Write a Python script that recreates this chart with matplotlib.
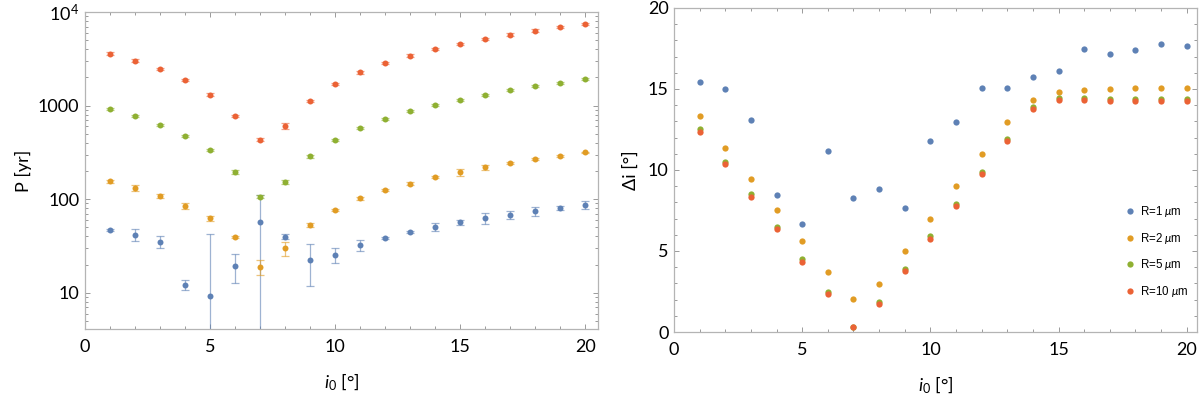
import numpy as np
import matplotlib.pyplot as plt
from matplotlib.ticker import FixedLocator, MultipleLocator, NullFormatter, FixedFormatter

plt.rcParams['font.family'] = ['Lato', 'DejaVu Sans']
plt.rcParams['mathtext.fontset'] = 'custom'
plt.rcParams['mathtext.rm'] = 'Lato'
plt.rcParams['mathtext.it'] = 'Lato:italic'

# inclinations
i0 = list(range(1, 21))

# left panel: period P [yr] with errors, one series per grain radius
p_r1 = [47, 41.7, 35, 12.2, 9.2, 19.3, 57.5, 39.8, 22.4, 25.3, 32.4, 38.5, 44.6, 50.8, 56.6, 62.9, 68.1, 74.5, 80.9, 86.3]
e_r1 = [1, 6, 5, 1.6, 33.3, 6.6, 54, 2.4, 10.6, 4.6, 4.5, 1, 1.5, 5.5, 4, 9, 6.7, 9, 4, 8.5]
p_r2 = [155, 132, 108, 85, 62.4, 39.2, 18.8, 29.9, 53.5, 76.4, 102, 124, 147, 171, 195, 219, 241, 267, 292, 316]
e_r2 = [7, 9, 6, 7, 4, 1, 3.4, 5.3, 2.7, 2, 3, 3, 4, 4, 17, 15, 6, 6, 7, 7]
p_r5 = [914, 769, 622, 475, 335, 197, 106, 153, 288, 428, 575, 721, 871, 1017, 1158, 1310, 1455, 1604, 1757, 1905]
e_r5 = [25, 20, 17, 13, 9, 9, 4, 9, 12, 13, 17, 20, 23, 27, 30, 35, 38, 42, 46, 50]
p_r10 = [3600, 3020, 2460, 1875, 1310, 776, 431, 608, 1120, 1690, 2260, 2840, 3430, 4010, 4570, 5170, 5740, 6340, 6920, 7500]
e_r10 = [110, 90, 75, 60, 40, 25, 15, 50, 35, 50, 70, 85, 100, 120, 140, 155, 170, 190, 210, 225]

# right panel: delta i [deg]
di_r1 = [15.45, 15.02, 13.1, 8.48, 6.65, 11.19, 8.25, 8.83, 7.65, 11.77, 12.98, 15.08, 15.04, 15.76, 16.13, 17.49, 17.14, 17.41, 17.76, 17.65]
di_r2 = [13.31, 11.38, 9.44, 7.53, 5.64, 3.72, 2.04, 2.98, 5.0, 6.99, 8.99, 10.97, 12.94, 14.32, 14.8, 14.94, 15.0, 15.06, 15.08, 15.08]
di_r5 = [12.51, 10.49, 8.52, 6.5, 4.51, 2.47, 0.33, 1.85, 3.91, 5.93, 7.92, 9.9, 11.89, 13.91, 14.42, 14.42, 14.4, 14.4, 14.4, 14.4]
di_r10 = [12.33, 10.35, 8.35, 6.34, 4.34, 2.33, 0.31, 1.75, 3.77, 5.76, 7.76, 9.75, 11.77, 13.78, 14.3, 14.3, 14.27, 14.26, 14.26, 14.25]

labels = ['R=1 $\\mu$m', 'R=2 $\\mu$m', 'R=5 $\\mu$m', 'R=10 $\\mu$m']
colors = ['#5E81B5', '#E19C24', '#8FB032', '#EB6235']

fig = plt.figure(figsize=(12, 3.98), dpi=100)
ax1 = fig.add_axes([0.0708, 0.1734, 0.4275, 0.7964])
ax2 = fig.add_axes([0.5617, 0.1658, 0.4358, 0.8142])

frame_col = '#b4b4b4'
tick_col = '#9a9a9a'


def style_frame(ax):
    for s in ax.spines.values():
        s.set_color(frame_col)
        s.set_linewidth(0.9)
    ax.tick_params(which='both', direction='in', top=True, right=True,
                   color=tick_col, width=0.7, labelsize=13, labelcolor='black')
    ax.tick_params(which='major', length=3.5)
    ax.tick_params(which='minor', length=2.5)
    ax.tick_params(axis='x', which='both', pad=7)
    ax.tick_params(axis='y', which='both', pad=4)
    ax.xaxis.set_major_locator(MultipleLocator(5))
    ax.xaxis.set_minor_locator(MultipleLocator(1))


# left panel
series_p = [(p_r1, e_r1), (p_r2, e_r2), (p_r5, e_r5), (p_r10, e_r10)]
ax1.set_yscale('log')
for (vals, errs), c in zip(series_p, colors):
    ax1.errorbar(i0, vals, yerr=errs, fmt='none', ecolor=c, alpha=0.6,
                 elinewidth=0.9, capsize=3, capthick=0.9)
    ax1.plot(i0, vals, 'o', color=c, ms=4.3, mec='none')

ax1.set_xlim(0, 20.5)
ax1.set_ylim(4.1, 1e4)
style_frame(ax1)
ax1.yaxis.set_major_locator(FixedLocator([10, 100, 1000, 10000]))
ax1.yaxis.set_major_formatter(FixedFormatter(['10', '100', '1000', '$10^4$']))
minors = [m * 10 ** k for k in range(0, 4) for m in range(2, 10)]
ax1.yaxis.set_minor_locator(FixedLocator(minors))
ax1.yaxis.set_minor_formatter(NullFormatter())
ax1.set_xlabel('$i_0$ [°]', fontsize=13, labelpad=12)
ax1.set_ylabel('P [yr]', fontsize=13, labelpad=4)

# right panel
series_di = [di_r1, di_r2, di_r5, di_r10]
for vals, c, lab in zip(series_di, colors, labels):
    ax2.plot(i0, vals, 'o', color=c, ms=4.5, mec='none', label=lab)

ax2.set_xlim(0, 20.4)
ax2.set_ylim(0, 20)
style_frame(ax2)
ax2.yaxis.set_major_locator(MultipleLocator(5))
ax2.yaxis.set_minor_locator(MultipleLocator(1))
ax2.set_xlabel('$i_0$ [°]', fontsize=13, labelpad=12)
ax2.set_ylabel('Δi [°]', fontsize=13, labelpad=6)

ax2.legend(loc='lower right', bbox_to_anchor=(0.995, 0.085), frameon=False,
           prop={'family': ['Liberation Sans', 'DejaVu Sans'], 'size': 8.3},
           handletextpad=0.4, labelspacing=1.0, borderpad=0, handlelength=1.0,
           markerscale=1.0)

fig.savefig('out.png', dpi=100)
